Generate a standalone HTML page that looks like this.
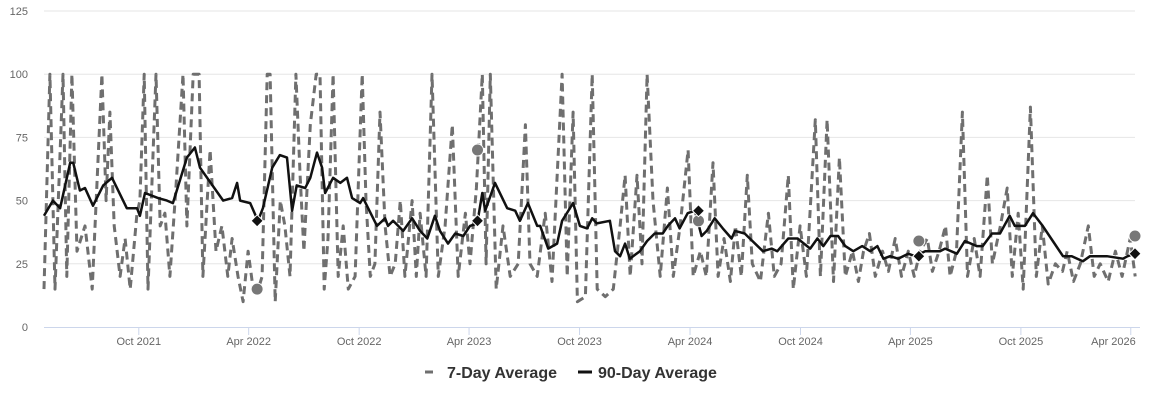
<!DOCTYPE html>
<html><head><meta charset="utf-8"><style>
body{margin:0;background:#fff;font-family:"Liberation Sans",Arial,sans-serif}
svg text{font-family:"Liberation Sans",Arial,sans-serif}
</style></head><body>
<svg id="chart" width="1150" height="401" xmlns="http://www.w3.org/2000/svg">
<g id="grid"></g>
<g id="yaxis"></g>
<g id="xaxis"></g>
<g id="series"></g>
<g id="markers"></g>
<g>
 <g>
  <line x1="425" y1="372" x2="437" y2="372" stroke="#6f6f6f" stroke-width="3" stroke-dasharray="8,4"/>
  <text x="447" y="378" font-size="16" font-weight="bold" fill="#333">7-Day Average</text>
 </g>
 <g>
  <line x1="578" y1="372" x2="592" y2="372" stroke="#111" stroke-width="3"/>
  <text x="598" y="378" font-size="16" font-weight="bold" fill="#333">90-Day Average</text>
 </g>
</g>
</svg>
<script>
const startDate = "2021-04-27";
const endDate = "2026-04-08";
const yTicks = [0,25,50,75,100,125];
const xTickDates = ["2021-10-01","2022-04-01","2022-10-01","2023-04-01","2023-10-01","2024-04-01","2024-10-01","2025-04-01","2025-10-01","2026-04-01"];
const xTickLabels = ["Oct 2021","Apr 2022","Oct 2022","Apr 2023","Oct 2023","Apr 2024","Oct 2024","Apr 2025","Oct 2025","Apr 2026"];
// weeks since startDate
const sevenWeeks = [0,1.4,2.6,4.5,5.4,6.6,7.8,9.7,11.4,13.7,14.7,15.6,16.6,18,19.2,20.4,22,22.7,23.7,24.6,26.5,27.5,28.6,29.8,31.2,32.9,33.8,35.3,36.7,37.6,39.3,40.7,42.1,43.5,44.5,45.9,47.1,48.3,49.5,50.7,51.6,52.8,53.5,54.7,55.9,57,58.2,59.6,60.6,61.5,63,64.4,65.3,66.3,67.2,68.4,69.6,70.8,72,73.6,75.3,76.2,77.2,78.3,79.5,80.7,81.9,83.1,84.3,85.4,87.1,88.1,89,
90.4,91.8,93.3,94.9,96.6,98,99.7,100.8,102.3,103.7,104.6,105.6,107,108.6,110.3,112.2,113.9,115,116.7,118.6,120.2,122.6,123.8,125.2,126.2,128.1,129.7,130.9,132.8,134.7,136.3,137.5,138.7,140.3,141.5,142.7,144.1,145.8,147.5,148.9,150.5,152.4,153.6,155.3,156.7,158.3,159.5,160.9,162.4,163.6,165,166.4,167.6,169.5,171.4,172.8,
174.4,176.1,177.3,178.9,180.4,182.5,183.7,185.3,186.8,188.2,189.6,191.3,192.7,193.9,195.3,196.7,198.4,199.8,201.4,202.9,204.5,205.9,207.3,209,210.2,211.8,213.3,214.4,215.9,217.3,218.5,220.1,221.5,223.2,224.4,226.3,227.9,229.1,230.5,231.7,233.4,234.8,236.2,237.6,239.3,241,242.1,243.6,245.2,247.1,248.5,249.9,251.8,253.5,255.1,257,258.2];
const sevenDay = [15,100,15,100,20,100,30,40,15,100,50,85,40,20,35,15,45,50,100,15,100,40,45,20,55,100,40,100,100,20,70,30,40,20,35,20,10,30,15,15,20,100,100,10,50,40,20,100,60,30,80,100,100,15,35,100,20,40,15,20,100,50,20,25,85,40,20,25,50,20,50,20,45,
20,100,20,40,80,20,45,25,55,100,25,100,15,40,20,25,80,25,20,45,18,100,20,85,10,12,100,15,12,15,40,60,20,60,25,100,50,20,55,20,40,70,20,30,20,65,20,35,18,40,20,60,25,18,45,20,
25,60,15,40,20,82,20,82,18,67,20,30,18,30,37,20,30,22,35,20,30,20,30,35,22,30,40,20,30,85,20,35,20,60,25,40,55,20,45,15,87,20,40,17,25,22,30,18,25,40,20,25,18,30,20,35,20];
const ninetyWeeks = [0,2.1,3.8,6.2,6.9,8.5,9.7,11.6,14,16.1,19.6,22,22.7,23.9,27,29.1,30.5,33.8,35.7,36.9,42.4,44.5,45.7,46.4,48.8,50.6,51.8,54,55.8,57.5,58.7,59.8,61.8,63,64.6,65.8,66.5,68.4,70.1,71.7,72.9,74.8,75.5,78.8,80.7,81.4,82.6,85,87.1,89,
90.7,92.5,93.7,95.6,97.3,99.2,100.8,102.5,103.7,104.4,106.7,109.6,111.5,112.6,114.5,116.7,117.4,119.3,121.4,122.6,125.2,126.8,128.5,129.7,130.8,133.9,135.1,136.3,137.5,138.6,141,142.7,144.5,146.4,147.6,149.3,150.4,152.3,154,155.6,156.8,158.7,160.6,162.7,163.5,165.8,167,170.1,172.2,
173.5,176.1,178.3,181.3,183,184.4,186.1,187.9,189.6,191.5,193.6,195.5,197.2,198.6,200.2,202.1,204.5,206.1,208.5,210.1,212,213.2,216,217.9,220.7,222.1,224.3,226.2,228.5,229.7,232.1,234,236.3,238.7,241.1,243.2,245.8,247.5,251.5,255.3,256.4,258.1];
const ninetyDay = [44,50,47,65,65,54,55,48,56,59,47,47,44,53,51,50,49,67,71,63,50,51,57,50,49,42,47,63,68,67,46,56,55,59,69,63,53,59,57,59,51,49,51,40,43,40,42,38,43,38,
35,44,38,33,37,36,40,41,53,46,57,47,46,42,49,40,40,31,33,42,49,40,39,43,41,42,30,28,33,27,30,34,37,37,40,43,39,45,46,36,38,43,39,35,38,37,35,30,31,
30,35,35,31,35,32,36,36,32,30,32,30,32,27,28,27,29,28,30,30,30,31,29,34,32,32,37,37,44,40,40,45,40,34,28,28,26,28,28,27,28,29];
const markerDates = ["2022-04-15","2023-04-15","2024-04-15","2025-04-15","2026-04-08"];
const marker7 = [15,70,42,34,36];
const marker90 = [42,42,46,28,29];

const NS="http://www.w3.org/2000/svg";
const X0=44,X1=1135,Y0=327,Y1=11;
const t0=Date.parse(startDate), t1=Date.parse(endDate);
const WEEK=7*86400000;
function xScale(d){return X0+(Date.parse(d)-t0)/(t1-t0)*(X1-X0);}
function xWeek(w){return X0+(w*WEEK)/(t1-t0)*(X1-X0);}
function yScale(v){return Y0-v/125*(Y0-Y1);}
function mk(tag,attrs,parent){const e=document.createElementNS(NS,tag);for(const k in attrs)e.setAttribute(k,attrs[k]);parent.appendChild(e);return e;}
const grid=document.getElementById('grid'),ya=document.getElementById('yaxis'),xa=document.getElementById('xaxis'),ser=document.getElementById('series'),mks=document.getElementById('markers');
yTicks.forEach(v=>{
 if(v>0){const l=mk('line',{x1:X0,x2:X1,y1:yScale(v),y2:yScale(v),stroke:'#e6e6e6','stroke-width':1},grid);
 
 }
 const t=mk('text',{x:28,y:yScale(v)+4,'font-size':11,fill:'#666','text-anchor':'end'},ya);
 t.textContent=v;
 
 
});
const ax=mk('line',{x1:X0,x2:X1+5,y1:Y0+0.5,y2:Y0+0.5,stroke:'#ccd6eb','stroke-width':1},xa);


xTickDates.forEach((d,i)=>{
 const x=xScale(d);
 const tk=mk('line',{x1:x,x2:x,y1:Y0,y2:Y0+8,stroke:'#ccd6eb','stroke-width':1},xa);
 
 
 const last=i===xTickDates.length-1;
 const t=mk('text',{x:last?x+5:x,y:Y0+18,'font-size':11,fill:'#666','text-anchor':last?'end':'middle'},xa);
 t.textContent=xTickLabels[i];
 
 
});
function path(ws,vs){return vs.map((v,i)=>(i?'L':'M')+xWeek(ws[i]).toFixed(1)+','+yScale(Math.min(v,100)).toFixed(1)).join('');}
const p7=mk('path',{d:path(sevenWeeks,sevenDay),fill:'none',stroke:'#6f6f6f','stroke-width':3,'stroke-dasharray':'8,5','stroke-linejoin':'round'},ser);


const p90=mk('path',{d:path(ninetyWeeks,ninetyDay),fill:'none',stroke:'#111','stroke-width':2.5,'stroke-linejoin':'round'},ser);


markerDates.forEach((d,i)=>{
 const x=xScale(d);
 const c=mk('circle',{cx:x,cy:yScale(marker7[i]),r:6,fill:'#777',stroke:'#fff','stroke-width':1},mks);
 
 
 const y=yScale(marker90[i]);
 const dm=mk('path',{d:`M${x},${y-6}L${x+6},${y}L${x},${y+6}L${x-6},${y}Z`,fill:'#111',stroke:'#fff','stroke-width':1},mks);
 
 
});
</script>
</body></html>
